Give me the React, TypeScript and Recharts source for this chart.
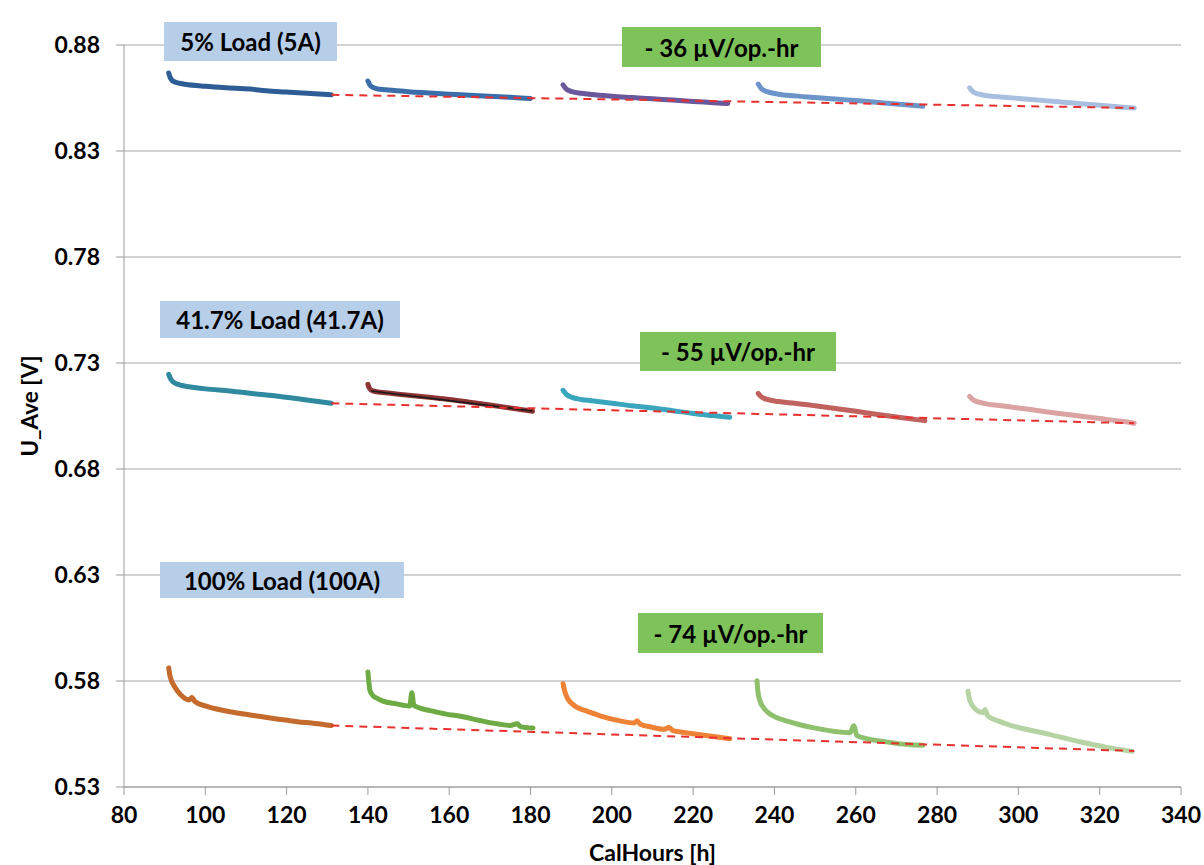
import { LineChart, Line, XAxis, YAxis, CartesianGrid, Label } from "recharts";

type Pt = [number, number];

const xTicks = [80, 100, 120, 140, 160, 180, 200, 220, 240, 260, 280, 300, 320, 340];
const yTicks = [0.53, 0.58, 0.63, 0.68, 0.73, 0.78, 0.83, 0.88];

// 5% load (5A)
const low1: Pt[] = [[91, 0.8668], [91.4, 0.8645], [92.2, 0.8628], [93.5, 0.862], [95, 0.8615], [100, 0.8605], [105, 0.8598], [111, 0.8592], [115, 0.8584], [120, 0.8578], [125, 0.8572], [131, 0.8565]];
const low2: Pt[] = [[140, 0.863], [140.6, 0.8608], [141.6, 0.8597], [143, 0.8591], [145, 0.8588], [150, 0.858], [155, 0.8574], [160, 0.8568], [165, 0.8563], [170, 0.8558], [175, 0.8553], [180, 0.8548]];
const low3: Pt[] = [[188, 0.8612], [188.8, 0.8592], [190.2, 0.858], [192.5, 0.8572], [195, 0.8566], [200, 0.8558], [205, 0.8552], [210, 0.8546], [215, 0.854], [220, 0.8534], [225, 0.8528], [228.5, 0.8524]];
const low4: Pt[] = [[236, 0.8616], [236.8, 0.8594], [238.2, 0.858], [241, 0.8568], [245, 0.856], [250, 0.8552], [255, 0.8545], [260, 0.8538], [265, 0.853], [270, 0.8522], [276.5, 0.8511]];
const low5: Pt[] = [[288, 0.8598], [288.8, 0.858], [290.3, 0.8568], [292.5, 0.8561], [295, 0.8556], [300, 0.8548], [305, 0.854], [310, 0.8532], [315, 0.8524], [320, 0.8516], [325, 0.8508], [328.5, 0.8503]];
const lowTrend: Pt[] = [[131, 0.8565], [328.5, 0.8503]];

// 41.7% load (41.7A)
const mid1: Pt[] = [[91, 0.7246], [91.5, 0.7224], [92.5, 0.7206], [94, 0.7195], [96, 0.7188], [100, 0.7178], [106, 0.7168], [112, 0.7155], [118, 0.7143], [124, 0.7128], [131, 0.711]];
const mid2: Pt[] = [[140, 0.7199], [140.4, 0.718], [141.2, 0.7168], [143, 0.7162], [145, 0.7158], [150, 0.7148], [155, 0.7138], [160, 0.7128], [165, 0.7115], [170, 0.7102], [175, 0.7088], [180.5, 0.7072]];
const mid2Fit: Pt[] = [[140.8, 0.7168], [180.5, 0.7074]];
const mid3: Pt[] = [[188, 0.7171], [188.8, 0.7152], [190.2, 0.7138], [192.5, 0.7128], [195, 0.7122], [200, 0.711], [205, 0.7098], [210, 0.7088], [215, 0.7075], [220, 0.7062], [225, 0.7052], [229, 0.7044]];
const mid4: Pt[] = [[236, 0.7157], [236.8, 0.714], [238.2, 0.7128], [241, 0.7118], [245, 0.711], [250, 0.7098], [255, 0.7085], [260, 0.7072], [265, 0.7058], [270, 0.7045], [277, 0.7028]];
const mid5: Pt[] = [[288, 0.7143], [288.8, 0.7127], [290.3, 0.7115], [292.5, 0.7106], [295, 0.71], [300, 0.7088], [305, 0.7075], [310, 0.7062], [315, 0.705], [320, 0.7038], [325, 0.7026], [328.5, 0.7016]];
const midTrend: Pt[] = [[131, 0.711], [328.5, 0.7016]];

// 100% load (100A)
const high1: Pt[] = [[91, 0.5862], [91.2, 0.5835], [91.6, 0.5805], [92.3, 0.5778], [93.2, 0.5752], [94.5, 0.5725], [96, 0.571], [96.7, 0.5722], [97.5, 0.5702], [100.4, 0.568], [106, 0.5655], [110, 0.5643], [114, 0.5631], [118, 0.562], [122.6, 0.5608], [127, 0.56], [131, 0.559]];
const high2: Pt[] = [[140, 0.5843], [140.2, 0.58], [140.5, 0.5755], [141.2, 0.5732], [142.3, 0.5718], [143.7, 0.5705], [147, 0.5692], [150.3, 0.5682], [150.8, 0.5745], [151.3, 0.5685], [155.3, 0.566], [159, 0.5645], [163.4, 0.5631], [167.5, 0.5614], [171.8, 0.5598], [175, 0.559], [176.7, 0.5598], [177.5, 0.5585], [180.6, 0.5578]];
const high3: Pt[] = [[188, 0.5787], [188.4, 0.5752], [189.2, 0.5715], [190.5, 0.5688], [192, 0.567], [194, 0.5657], [197.1, 0.5636], [202, 0.5612], [205.5, 0.5602], [206.2, 0.5612], [207, 0.5596], [209.4, 0.5584], [213, 0.5572], [214, 0.5582], [215, 0.5566], [216.8, 0.556], [221.7, 0.5547], [225, 0.5538], [229, 0.5528]];
const high4: Pt[] = [[235.7, 0.5801], [235.9, 0.5755], [236.4, 0.5708], [237.3, 0.5675], [238.6, 0.5648], [240.5, 0.5628], [242.9, 0.5612], [249.7, 0.5579], [258.6, 0.5556], [259.5, 0.5589], [260.3, 0.5542], [267.5, 0.5513], [273.6, 0.5499], [276.6, 0.5497]];
const high5: Pt[] = [[287.6, 0.5752], [287.9, 0.572], [288.5, 0.569], [289.4, 0.5668], [290.4, 0.5655], [291.4, 0.5652], [291.8, 0.5666], [292.4, 0.5636], [295, 0.5612], [298.1, 0.5591], [306.8, 0.5552], [315.7, 0.5511], [321.8, 0.5487], [328, 0.5468]];
const highTrend: Pt[] = [[131, 0.559], [328.5, 0.547]];

const segments: { data: Pt[]; color: string }[] = [
  { data: low1, color: "#2e5d96" },
  { data: low2, color: "#3a6eaa" },
  { data: low3, color: "#6a589c" },
  { data: low4, color: "#6d94c8" },
  { data: low5, color: "#a8bfe0" },
  { data: mid1, color: "#2f8aa0" },
  { data: mid2, color: "#8e3434" },
  { data: mid3, color: "#3aa6be" },
  { data: mid4, color: "#c0625e" },
  { data: mid5, color: "#dba4a2" },
  { data: high1, color: "#c46a2c" },
  { data: high2, color: "#6eab45" },
  { data: high3, color: "#ee8236" },
  { data: high4, color: "#8ec06e" },
  { data: high5, color: "#b6d4a3" },
];

const trends = [lowTrend, midTrend, highTrend];

const toRows = (pts: Pt[]) => pts.map(([x, y]) => ({ x, y }));

const font = "Lato, 'Open Sans', sans-serif";

const boxes = [
  { text: "5% Load (5A)", left: 164, top: 22, width: 173, height: 39, bg: "#b7cee8" },
  { text: "- 36 µV/op.-hr", left: 622, top: 27, width: 199, height: 40, bg: "#7dc35a" },
  { text: "41.7% Load (41.7A)", left: 160, top: 301, width: 240, height: 37, bg: "#b7cee8" },
  { text: "- 55 µV/op.-hr", left: 640, top: 332, width: 196, height: 39, bg: "#7dc35a" },
  { text: "100% Load (100A)", left: 160, top: 562, width: 244, height: 36, bg: "#b7cee8" },
  { text: "- 74 µV/op.-hr", left: 638, top: 613, width: 185, height: 40, bg: "#7dc35a" },
];

const App = () => {
  return (
    <div style={{ position: "relative", width: 1204, height: 865, background: "#fff", fontFamily: font }}>
      <style>{`body{margin:0}`}</style>
      <LineChart width={1204} height={865} margin={{ top: 45, right: 23, left: 0, bottom: 0 }}>
        <CartesianGrid vertical={false} stroke="#a6a6a6" />
        <XAxis
          type="number"
          dataKey="x"
          domain={[80, 340]}
          ticks={xTicks}
          height={78}
          tickSize={8}
          tickMargin={12}
          stroke="#9a9a9a"
          tick={{ fill: "#000", fontSize: 23, fontWeight: 700, fontFamily: font }}
        >
          <Label
            value="CalHours [h]"
            position="insideBottom"
            offset={4}
            style={{ fill: "#000", fontSize: 23, fontWeight: 700, fontFamily: font }}
          />
        </XAxis>
        <YAxis
          type="number"
          dataKey="y"
          domain={[0.53, 0.88]}
          ticks={yTicks}
          width={124}
          tickSize={8}
          tickMargin={16}
          stroke="#9a9a9a"
          tickFormatter={(v: number) => v.toFixed(2)}
          tick={{ fill: "#000", fontSize: 23, fontWeight: 700, fontFamily: font }}
        >
          <Label
            value="U_Ave [V]"
            angle={-90}
            position="insideLeft"
            offset={30}
            dy={-10}
            style={{ fill: "#000", fontSize: 22.5, fontWeight: 700, fontFamily: font, textAnchor: "middle" }}
          />
        </YAxis>
        {segments.map((s, i) => (
          <Line
            key={`seg${i}`}
            type="monotone"
            data={toRows(s.data)}
            dataKey="y"
            stroke={s.color}
            strokeWidth={5}
            strokeLinejoin="round"
            strokeLinecap="round"
            dot={false}
            isAnimationActive={false}
          />
        ))}
        <Line
          data={toRows(mid2Fit)}
          dataKey="y"
          stroke="#1a1a1a"
          strokeWidth={1.5}
          dot={false}
          isAnimationActive={false}
        />
        {trends.map((t, i) => (
          <Line
            key={`trend${i}`}
            data={toRows(t)}
            dataKey="y"
            stroke="#e8302e"
            strokeWidth={2}
            strokeDasharray="8 6"
            dot={false}
            isAnimationActive={false}
          />
        ))}
      </LineChart>
      {boxes.map((b) => (
        <div
          key={b.text}
          style={{
            position: "absolute",
            left: b.left,
            top: b.top,
            width: b.width,
            height: b.height,
            background: b.bg,
            display: "flex",
            alignItems: "center",
            justifyContent: "center",
            fontSize: 24,
            fontWeight: 700,
            color: "#000",
            whiteSpace: "nowrap",
          }}
        >
          {b.text}
        </div>
      ))}
    </div>
  );
};

export default App;
